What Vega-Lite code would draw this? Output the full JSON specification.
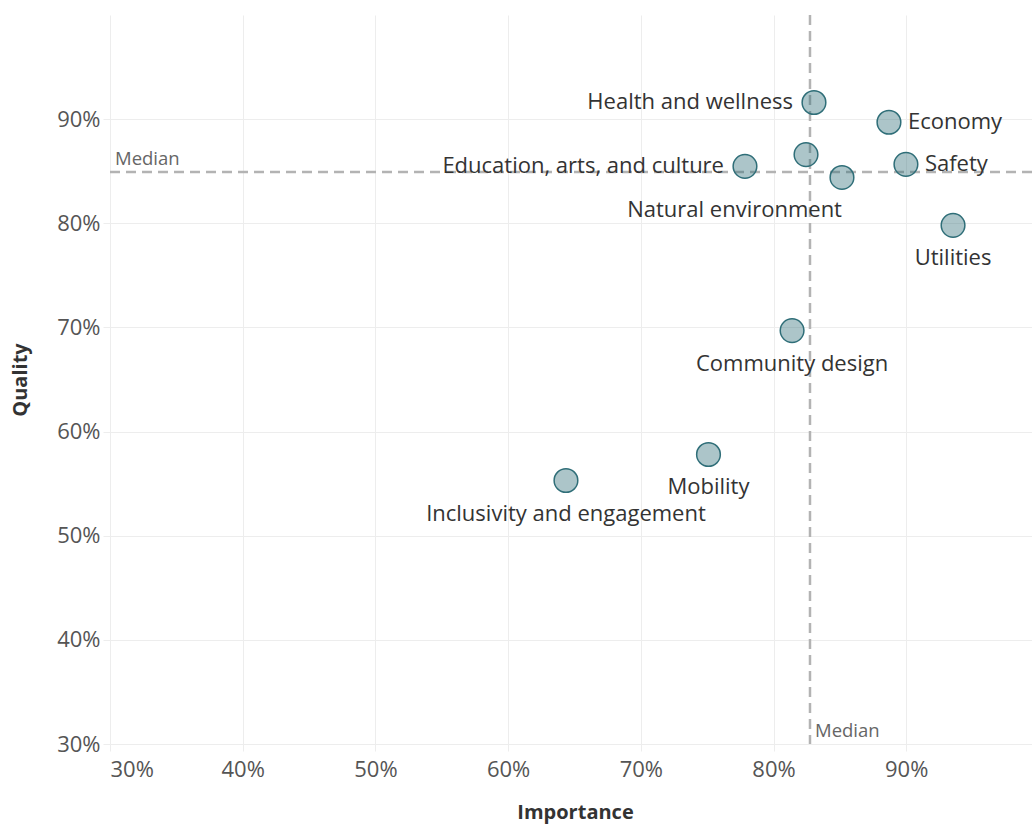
{
  "$schema": "https://vega.github.io/schema/vega-lite/v6.json",
  "width": 922,
  "height": 729,
  "autosize": {"type": "none"},
  "padding": {"left": 110, "top": 15, "right": 0, "bottom": 81},
  "config": {
    "view": {"stroke": null},
    "font": "Open Sans",
    "axis": {
      "grid": true,
      "gridColor": "#ededed",
      "gridWidth": 1,
      "domain": false,
      "tickColor": "#ededed",
      "tickSize": 7,
      "labelFont": "Open Sans",
      "labelFontSize": 22,
      "labelColor": "#555555",
      "titleFont": "Open Sans",
      "titleFontSize": 20,
      "titleFontWeight": "bold",
      "titleColor": "#333333"
    }
  },
  "data": {
    "values": [
      {"category": "Health and wellness", "importance": 0.8305, "quality": 0.916},
      {"category": "Economy", "importance": 0.887, "quality": 0.897},
      {"category": "(unlabeled)", "importance": 0.8245, "quality": 0.866},
      {"category": "Education, arts, and culture", "importance": 0.7785, "quality": 0.8547},
      {"category": "Safety", "importance": 0.8998, "quality": 0.8566},
      {"category": "Natural environment", "importance": 0.8516, "quality": 0.844},
      {"category": "Utilities", "importance": 0.9353, "quality": 0.798},
      {"category": "Community design", "importance": 0.814, "quality": 0.697},
      {"category": "Mobility", "importance": 0.751, "quality": 0.578},
      {"category": "Inclusivity and engagement", "importance": 0.6436, "quality": 0.553}
    ]
  },
  "layer": [
    {
      "transform": [{"aggregate": [{"op": "median", "field": "importance", "as": "importance"}]}],
      "mark": {"type": "rule", "stroke": "#b3b3b3", "strokeWidth": 2.5, "strokeDash": [10, 6]},
      "encoding": {
        "x": {"field": "importance", "type": "quantitative", "title": "Importance",
              "scale": {"domain": [0.3, 0.9948], "nice": false, "zero": false}}
      }
    },
    {
      "transform": [{"aggregate": [{"op": "median", "field": "quality", "as": "quality"}]}],
      "mark": {"type": "rule", "stroke": "#b3b3b3", "strokeWidth": 2.5, "strokeDash": [10, 6]},
      "encoding": {
        "y": {"field": "quality", "type": "quantitative", "title": "Quality",
              "scale": {"domain": [0.3, 1.0], "nice": false, "zero": false}}
      }
    },
    {
      "mark": {"type": "circle", "size": 560, "fill": "#2f6e78", "fillOpacity": 0.4, "stroke": "#2f6e78", "strokeOpacity": 1, "strokeWidth": 1.5, "opacity": 1},
      "encoding": {
        "x": {"field": "importance", "type": "quantitative", "title": "Importance",
              "scale": {"domain": [0.3, 0.9948], "nice": false, "zero": false},
              "axis": {"values": [0.3, 0.4, 0.5, 0.6, 0.7, 0.8, 0.9], "format": ".0%", "labelPadding": 8, "titlePadding": 22, "titleX": 465}},
        "y": {"field": "quality", "type": "quantitative", "title": "Quality",
              "scale": {"domain": [0.3, 1.0], "nice": false, "zero": false},
              "axis": {"values": [0.3, 0.4, 0.5, 0.6, 0.7, 0.8, 0.9], "format": ".0%", "labelPadding": 3, "titlePadding": 26}}
      }
    },
    {
      "transform": [{"filter": {"field": "category", "oneOf": ["Health and wellness", "Education, arts, and culture"]}}],
      "mark": {"type": "text", "align": "right", "baseline": "middle", "dx": -21, "fontSize": 22, "fill": "#333333"},
      "encoding": {
        "x": {"field": "importance", "type": "quantitative", "title": "Importance"},
        "y": {"field": "quality", "type": "quantitative", "title": "Quality"},
        "text": {"field": "category"}
      }
    },
    {
      "transform": [{"filter": {"field": "category", "oneOf": ["Economy", "Safety"]}}],
      "mark": {"type": "text", "align": "left", "baseline": "middle", "dx": 19, "fontSize": 22, "fill": "#333333"},
      "encoding": {
        "x": {"field": "importance", "type": "quantitative", "title": "Importance"},
        "y": {"field": "quality", "type": "quantitative", "title": "Quality"},
        "text": {"field": "category"}
      }
    },
    {
      "transform": [{"filter": {"field": "category", "oneOf": ["Utilities", "Community design", "Mobility", "Inclusivity and engagement"]}}],
      "mark": {"type": "text", "align": "center", "baseline": "middle", "dy": 33, "fontSize": 22, "fill": "#333333"},
      "encoding": {
        "x": {"field": "importance", "type": "quantitative", "title": "Importance"},
        "y": {"field": "quality", "type": "quantitative", "title": "Quality"},
        "text": {"field": "category"}
      }
    },
    {
      "transform": [{"filter": {"field": "category", "oneOf": ["Natural environment"]}}],
      "mark": {"type": "text", "align": "right", "baseline": "middle", "dy": 33, "dx": 0, "fontSize": 22, "fill": "#333333"},
      "encoding": {
        "x": {"field": "importance", "type": "quantitative", "title": "Importance"},
        "y": {"field": "quality", "type": "quantitative", "title": "Quality"},
        "text": {"field": "category"}
      }
    },
    {
      "transform": [{"aggregate": [{"op": "median", "field": "importance", "as": "importance"}]}],
      "mark": {"type": "text", "text": "Median", "align": "left", "baseline": "bottom", "dx": 5, "dy": -3, "fontSize": 18.5, "fill": "#666666"},
      "encoding": {
        "x": {"field": "importance", "type": "quantitative", "title": "Importance"},
        "y": {"datum": 0.3, "type": "quantitative", "title": "Quality"}
      }
    },
    {
      "transform": [{"aggregate": [{"op": "median", "field": "quality", "as": "quality"}]}],
      "mark": {"type": "text", "text": "Median", "align": "left", "baseline": "bottom", "dx": 5, "dy": -3, "fontSize": 18.5, "fill": "#666666"},
      "encoding": {
        "x": {"datum": 0.3, "type": "quantitative", "title": "Importance"},
        "y": {"field": "quality", "type": "quantitative", "title": "Quality"}
      }
    }
  ]
}
